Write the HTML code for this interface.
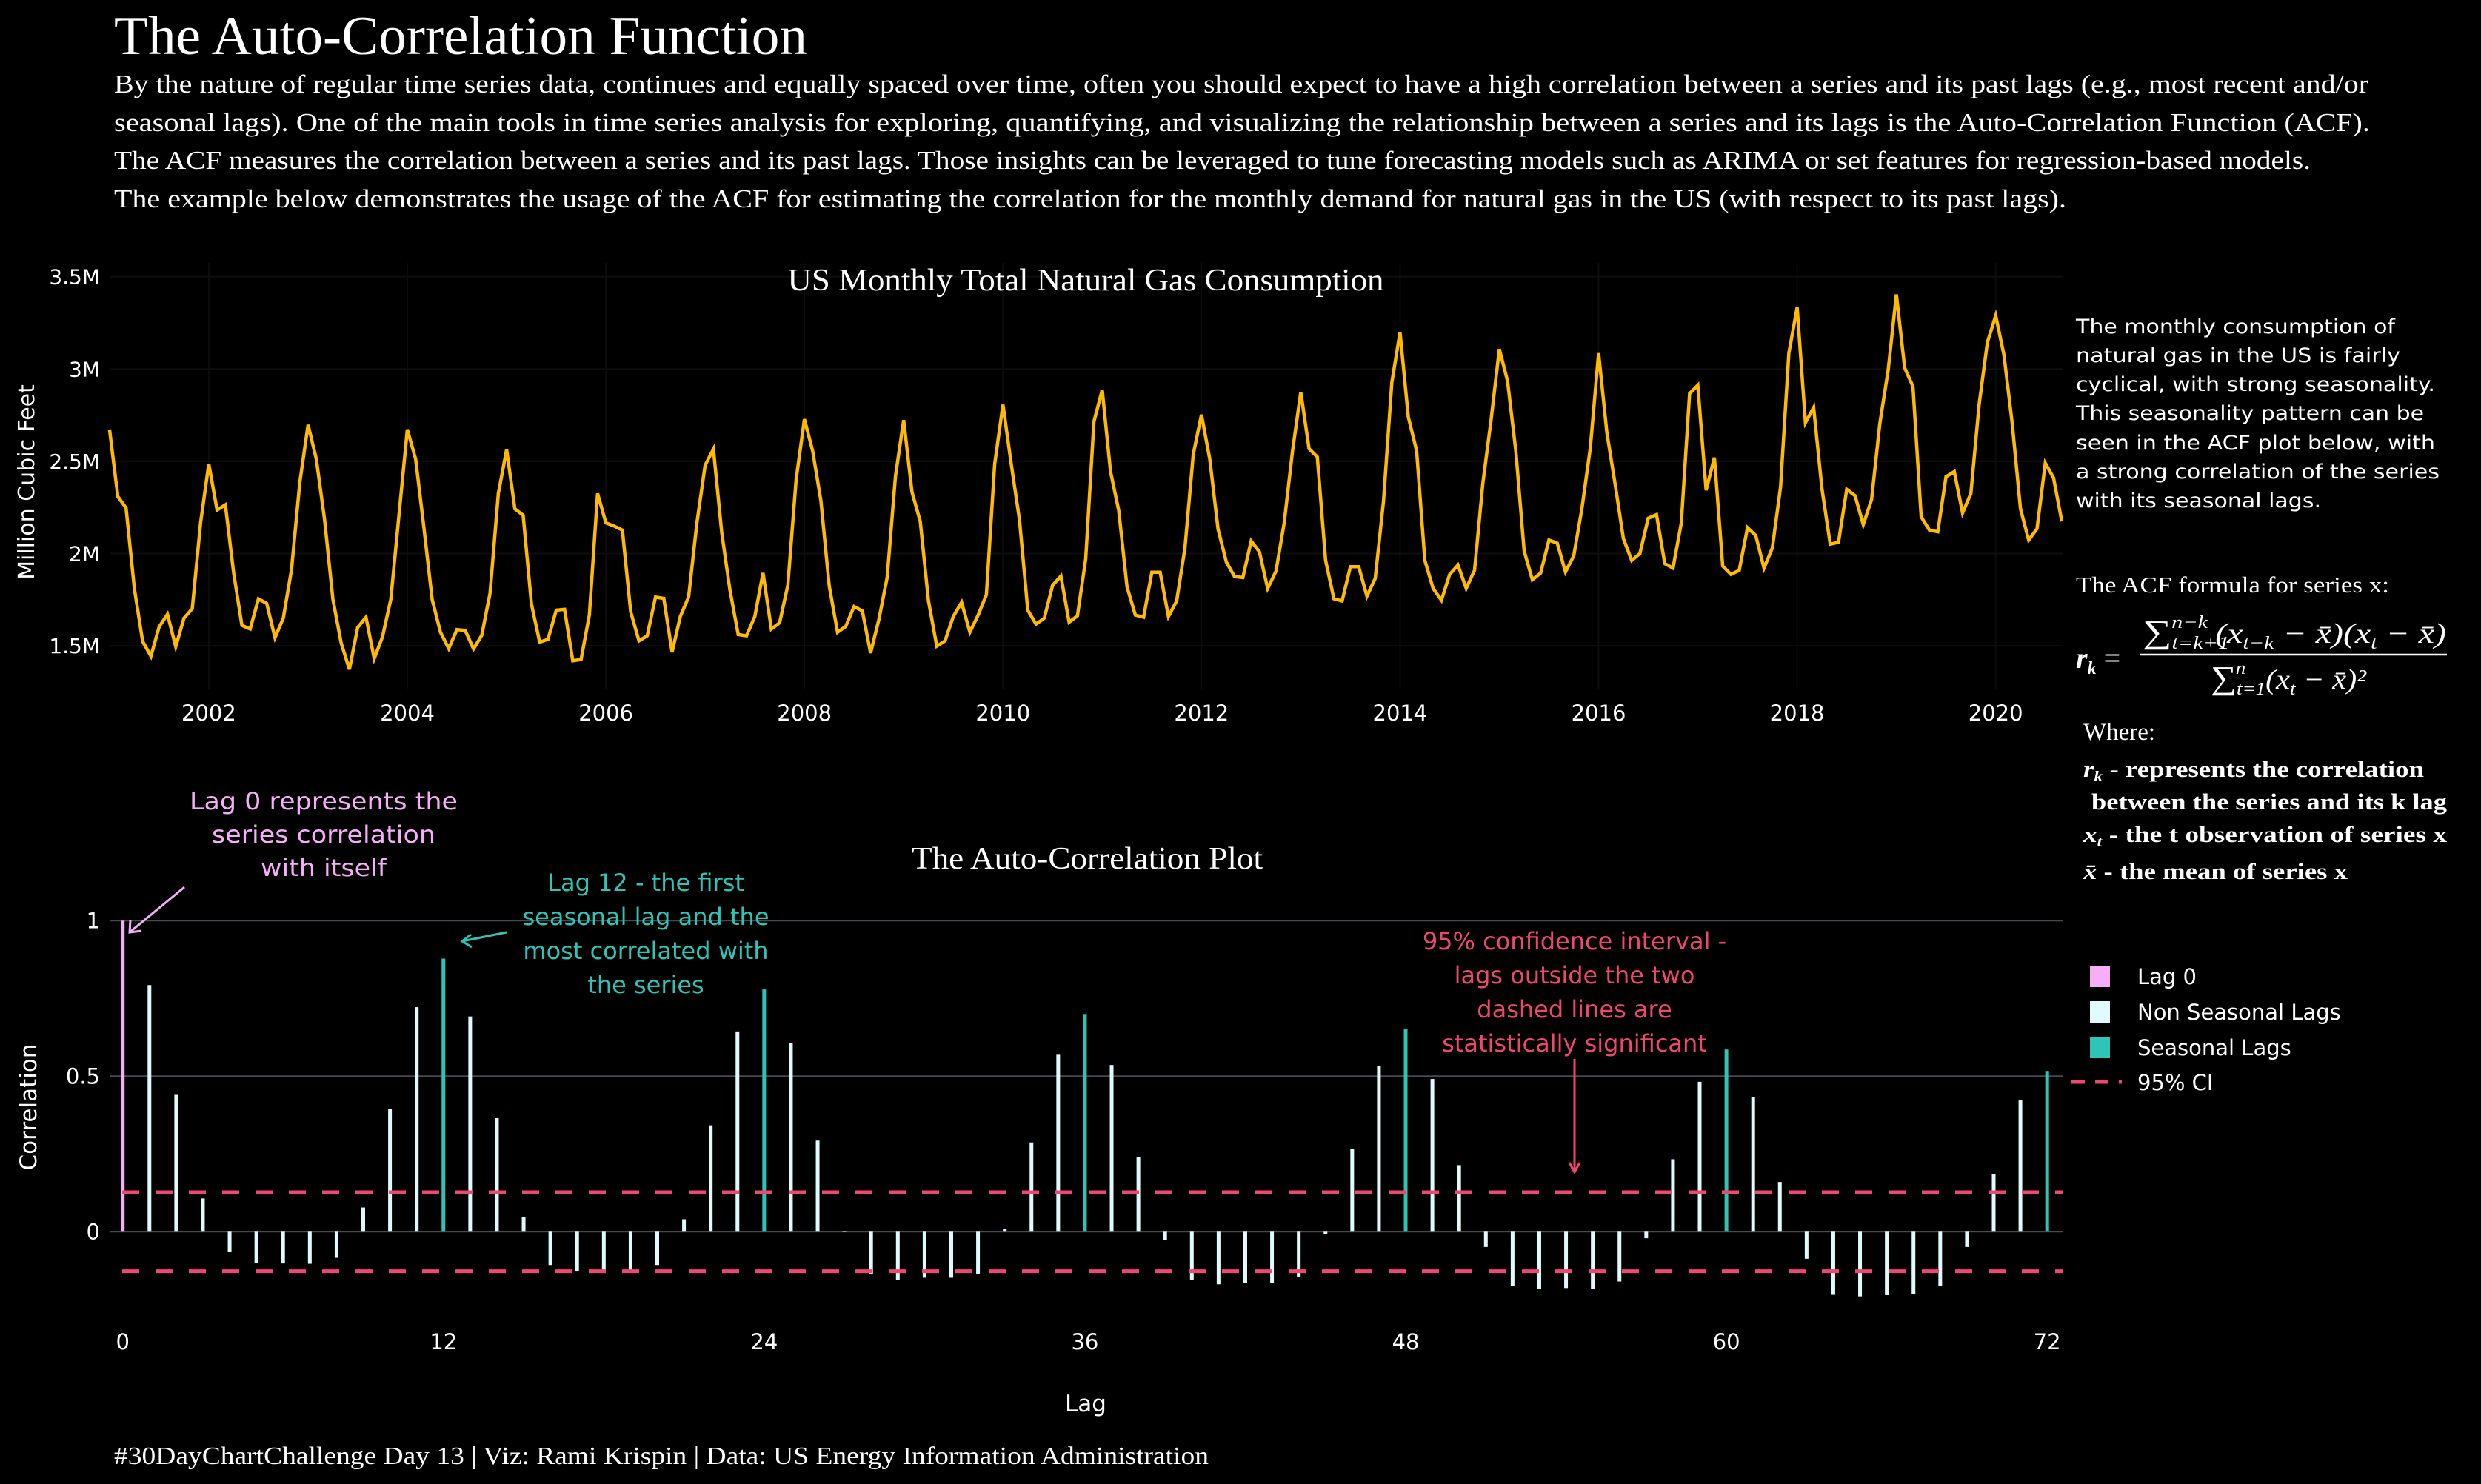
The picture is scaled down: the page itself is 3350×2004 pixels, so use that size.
<!DOCTYPE html>
<html><head><meta charset="utf-8"><style>
html,body{margin:0;padding:0;background:#000;}
svg{display:block;}
.serif{font-family:"Liberation Serif",serif;fill:#fff;}
.sans{font-family:"DejaVu Sans","Liberation Sans",sans-serif;fill:#fff;}
</style></head><body>
<svg id="root" width="3350" height="2004" viewBox="0 0 3350 2004" xmlns="http://www.w3.org/2000/svg">
<rect x="0" y="0" width="3350" height="2004" fill="#000"/>
<text class="serif" x="154" y="73" font-size="74" textLength="936" lengthAdjust="spacingAndGlyphs">The Auto-Correlation Function</text>
<g class="serif" font-size="35">
<text x="154" y="125" textLength="3044" lengthAdjust="spacingAndGlyphs">By the nature of regular time series data, continues and equally spaced over time, often you should expect to have a high correlation between a series and its past lags (e.g., most recent and/or</text>
<text x="154" y="177" textLength="3046" lengthAdjust="spacingAndGlyphs">seasonal lags). One of the main tools in time series analysis for exploring, quantifying, and visualizing the relationship between a series and its lags is the Auto-Correlation Function (ACF).</text>
<text x="154" y="228" textLength="2966" lengthAdjust="spacingAndGlyphs">The ACF measures the correlation between a series and its past lags. Those insights can be leveraged to tune forecasting models such as ARIMA or set features for regression-based models.</text>
<text x="154" y="280" textLength="2636" lengthAdjust="spacingAndGlyphs">The example below demonstrates the usage of the ACF for estimating the correlation for the monthly demand for natural gas in the US (with respect to its past lags).</text>
</g>
<g id="ts"></g>
<g id="acf"></g>
<g class="sans" font-size="27">
<text x="2803" y="450" textLength="431" lengthAdjust="spacingAndGlyphs">The monthly consumption of</text>
<text x="2803" y="489" textLength="438" lengthAdjust="spacingAndGlyphs">natural gas in the US is fairly</text>
<text x="2803" y="528" textLength="485" lengthAdjust="spacingAndGlyphs">cyclical, with strong seasonality.</text>
<text x="2803" y="567" textLength="470" lengthAdjust="spacingAndGlyphs">This seasonality pattern can be</text>
<text x="2803" y="607" textLength="485" lengthAdjust="spacingAndGlyphs">seen in the ACF plot below, with</text>
<text x="2803" y="646" textLength="491" lengthAdjust="spacingAndGlyphs">a strong correlation of the series</text>
<text x="2803" y="685" textLength="331" lengthAdjust="spacingAndGlyphs">with its seasonal lags.</text>
</g>
<g class="serif">
<text x="2803" y="800" font-size="31" textLength="423" lengthAdjust="spacingAndGlyphs">The ACF formula for series x:</text>
<text x="2803" y="902" font-size="40" font-style="italic" font-weight="bold">r<tspan font-size="24" dy="8">k</tspan><tspan dy="-8" font-style="normal" font-weight="normal"> =</tspan></text>
<text x="2893" y="868" font-size="38" font-style="italic" textLength="410" lengthAdjust="spacingAndGlyphs"><tspan font-style="normal" font-size="44">∑</tspan><tspan font-size="24" dy="8">t=k+1</tspan><tspan font-size="24" dx="-62" dy="-28">n−k</tspan><tspan dy="20" dx="8">(x</tspan><tspan font-size="24" dy="8">t−k</tspan><tspan dy="-8"> − x̄)(x</tspan><tspan font-size="24" dy="8">t</tspan><tspan dy="-8"> − x̄)</tspan></text>
<line x1="2890" y1="884" x2="3304" y2="884" stroke="#fff" stroke-width="2.5"/>
<text x="2985" y="930" font-size="38" font-style="italic" textLength="210" lengthAdjust="spacingAndGlyphs"><tspan font-style="normal" font-size="44">∑</tspan><tspan font-size="24" dy="8">t=1</tspan><tspan font-size="24" dx="-36" dy="-28">n</tspan><tspan dy="20" dx="24">(x</tspan><tspan font-size="24" dy="8">t</tspan><tspan dy="-8"> − x̄)²</tspan></text>
<text x="2813" y="999" font-size="33">Where:</text>
<g font-size="31" font-weight="bold">
<text x="2813" y="1049" textLength="460" lengthAdjust="spacingAndGlyphs"><tspan font-style="italic">r<tspan font-size="20" dy="6">k</tspan></tspan><tspan dy="-6"> - represents the correlation</tspan></text>
<text x="2824" y="1093" textLength="480" lengthAdjust="spacingAndGlyphs">between the series and its k lag</text>
<text x="2813" y="1137" textLength="491" lengthAdjust="spacingAndGlyphs"><tspan font-style="italic">x<tspan font-size="20" dy="6">t</tspan></tspan><tspan dy="-6"> - the t observation of series x</tspan></text>
<text x="2813" y="1187" textLength="357" lengthAdjust="spacingAndGlyphs"><tspan font-style="italic">x̄</tspan> - the mean of series x</text>
</g>
</g>
<text class="serif" x="154" y="1977" font-size="34" textLength="1478" lengthAdjust="spacingAndGlyphs">#30DayChartChallenge Day 13 | Viz: Rami Krispin | Data: US Energy Information Administration</text>
</svg>
<script>
// ---------- Time series data (million cubic feet, monthly from Jan 2001) ----------
var startYear = 2001;
var gasValues = [
2.672,2.309,2.247,1.811,1.524,1.444,1.603,1.671,1.495,1.650,1.701,2.166,
2.486,2.236,2.264,1.895,1.611,1.591,1.755,1.730,1.544,1.650,1.912,2.385,
2.698,2.512,2.182,1.752,1.515,1.372,1.600,1.655,1.431,1.549,1.752,2.216,
2.672,2.512,2.140,1.752,1.574,1.485,1.588,1.583,1.483,1.557,1.785,2.326,
2.563,2.242,2.208,1.726,1.520,1.535,1.693,1.698,1.419,1.426,1.667,2.326,
2.166,2.149,2.127,1.684,1.527,1.554,1.764,1.757,1.465,1.659,1.764,2.166,
2.478,2.566,2.115,1.802,1.561,1.554,1.659,1.895,1.591,1.625,1.828,2.402,
2.728,2.554,2.284,1.824,1.574,1.605,1.713,1.689,1.461,1.642,1.870,2.419,
2.723,2.334,2.174,1.743,1.498,1.527,1.659,1.735,1.574,1.667,1.777,2.486,
2.807,2.486,2.182,1.693,1.617,1.650,1.828,1.878,1.628,1.662,1.971,2.715,
2.887,2.444,2.233,1.819,1.667,1.655,1.899,1.899,1.659,1.743,2.030,2.537,
2.753,2.512,2.132,1.954,1.875,1.870,2.068,2.010,1.811,1.904,2.166,2.554,
2.875,2.568,2.524,1.963,1.755,1.743,1.929,1.929,1.769,1.865,2.284,2.926,
3.199,2.740,2.557,1.963,1.811,1.747,1.887,1.938,1.811,1.909,2.377,2.723,
3.108,2.934,2.554,2.014,1.858,1.895,2.073,2.056,1.900,1.988,2.250,2.571,
3.086,2.655,2.377,2.081,1.963,2.000,2.191,2.211,1.946,1.921,2.166,2.867,
2.912,2.343,2.520,1.932,1.887,1.909,2.140,2.098,1.921,2.030,2.360,3.086,
3.334,2.709,2.791,2.351,2.051,2.061,2.348,2.314,2.157,2.292,2.706,2.993,
3.404,3.007,2.905,2.199,2.127,2.118,2.416,2.444,2.220,2.326,2.807,3.145,
3.289,3.078,2.706,2.242,2.073,2.135,2.490,2.410,2.174];
var tsYTicks = [1.5,2,2.5,3,3.5];
var tsYTickLabels = ["1.5M","2M","2.5M","3M","3.5M"];
var tsXTickYears = [2002,2004,2006,2008,2010,2012,2014,2016,2018,2020];

// ---------- ACF data ----------
var acfLags = [];
for (var k=0;k<=72;k++) acfLags.push(k);
var acfValues = [1,0.793,0.44,0.107,-0.066,-0.10,-0.102,-0.103,-0.084,0.078,0.395,0.722,
0.878,0.692,0.365,0.048,-0.107,-0.128,-0.122,-0.122,-0.107,0.04,0.342,0.644,
0.779,0.606,0.293,0.002,-0.136,-0.154,-0.148,-0.148,-0.136,0.008,0.287,0.569,
0.70,0.536,0.24,-0.027,-0.154,-0.169,-0.164,-0.165,-0.146,-0.008,0.265,0.534,
0.653,0.491,0.214,-0.049,-0.175,-0.183,-0.181,-0.183,-0.16,-0.021,0.233,0.482,
0.586,0.434,0.16,-0.087,-0.203,-0.208,-0.204,-0.2,-0.175,-0.049,0.186,0.422,0.517];
var ciBound = [0.127];
var acfXTicks = [0,12,24,36,48,60,72];
var acfYTicks = [0,0.5,1];
var acfYTickLabels = ["0","0.5","1"];

var NS = "http://www.w3.org/2000/svg";
function mk(tag, attrs, parent){var e=document.createElementNS(NS,tag);for(var a in attrs)e.setAttribute(a,attrs[a]);parent.appendChild(e);return e;}

// ---------- Time series chart ----------
var ts = document.getElementById('ts');
function tsX(i){return 147.9 + i*11.17;}
function tsY(v){return 373.7 + (3.5 - v)*249.2;}
tsXTickYears.forEach(function(yr){
  var x = tsX((yr-startYear)*12);
  var g = mk('line',{x1:x,y1:355,x2:x,y2:930,stroke:'#0c0c0c','stroke-width':2},ts);
  
  
  var t = mk('text',{x:x,y:973,'text-anchor':'middle','font-size':29,fill:'#fff','font-family':'DejaVu Sans, sans-serif'},ts);
  t.textContent = yr;
  
  
});
tsYTicks.forEach(function(v,j){
  var y = tsY(v);
  var g = mk('line',{x1:148,y1:y,x2:2785,y2:y,stroke:'#0e0e0e','stroke-width':2},ts);
  
  
  var t = mk('text',{x:135,y:y+10,'text-anchor':'end','font-size':28,fill:'#fff','font-family':'DejaVu Sans, sans-serif'},ts);
  t.textContent = tsYTickLabels[j];
  
  
});
var pts = gasValues.map(function(v,i){return tsX(i).toFixed(1)+','+tsY(v).toFixed(1);}).join(' ');
var pl = mk('polyline',{points:pts,fill:'none',stroke:'#ffbb00','stroke-width':4.5,'stroke-linejoin':'miter'},ts);


var tt = mk('text',{x:1466,y:392,'text-anchor':'middle','font-size':42,fill:'#fff','font-family':'Liberation Serif, serif',textLength:805,lengthAdjust:'spacingAndGlyphs'},ts);
tt.textContent = 'US Monthly Total Natural Gas Consumption';


var yt = mk('text',{x:0,y:0,'text-anchor':'middle','font-size':30,fill:'#fff','font-family':'DejaVu Sans, sans-serif',transform:'translate(46,651) rotate(-90)'},ts);
yt.textContent = 'Million Cubic Feet';



// ---------- ACF chart ----------
var acf = document.getElementById('acf');
function aX(l){return 165.7 + l*36.09;}
function aY(v){return 1663.3 - v*420;}
acfYTicks.forEach(function(v,j){
  var y = aY(v);
  var g = mk('line',{x1:148,y1:y,x2:2785,y2:y,stroke:'#444a52','stroke-width':2},acf);
  
  
  var t = mk('text',{x:135,y:y+10,'text-anchor':'end','font-size':29,fill:'#fff','font-family':'DejaVu Sans, sans-serif'},acf);
  t.textContent = acfYTickLabels[j];
  
  
});
acfXTicks.forEach(function(l){
  var t = mk('text',{x:aX(l),y:1822,'text-anchor':'middle','font-size':29,fill:'#fff','font-family':'DejaVu Sans, sans-serif'},acf);
  t.textContent = l;
  
  
});
acfLags.forEach(function(l,i){
  var v = acfValues[i];
  var col = l===0 ? '#f7aef8' : (l%12===0 ? '#2ec4b6' : '#e0fbfc');
  var y0 = aY(0), y1 = aY(v);
  var b = mk('rect',{x:aX(l)-2.5,y:Math.min(y0,y1),width:5,height:Math.max(1,Math.abs(y1-y0)),fill:col},acf);
  
  
});
[ciBound[0], -ciBound[0]].forEach(function(v){
  var y = aY(v);
  var d = mk('line',{x1:165,y1:y,x2:2785,y2:y,stroke:'#ef476f','stroke-width':5,'stroke-dasharray':'23,22'},acf);
  
  
});
var at = mk('text',{x:1468,y:1173,'text-anchor':'middle','font-size':42,fill:'#fff','font-family':'Liberation Serif, serif',textLength:474,lengthAdjust:'spacingAndGlyphs'},acf);
at.textContent = 'The Auto-Correlation Plot';


var xl = mk('text',{x:1466,y:1906,'text-anchor':'middle','font-size':31,fill:'#fff','font-family':'DejaVu Sans, sans-serif'},acf);
xl.textContent = 'Lag';


var yl = mk('text',{x:0,y:0,'text-anchor':'middle','font-size':31,fill:'#fff','font-family':'DejaVu Sans, sans-serif',transform:'translate(49,1495) rotate(-90)'},acf);
yl.textContent = 'Correlation';


</script>
<script>
(function(){
var root=document.getElementById('root');
var s='';
s+='<g font-family="DejaVu Sans, sans-serif" font-size="32" text-anchor="middle" fill="#f7aef8">'+
'<text x="437" y="1093" textLength="362" lengthAdjust="spacingAndGlyphs">Lag 0 represents the</text>'+
'<text x="437" y="1138" textLength="302" lengthAdjust="spacingAndGlyphs">series correlation</text>'+
'<text x="437" y="1183" textLength="170" lengthAdjust="spacingAndGlyphs">with itself</text>'+
'<line x1="249" y1="1198" x2="175" y2="1259" stroke="#f7aef8" stroke-width="3"/>'+
'<polyline points="176,1243 175,1259 191,1257" fill="none" stroke="#f7aef8" stroke-width="3"/></g>';
s+='<g font-family="DejaVu Sans, sans-serif" font-size="32" text-anchor="middle" fill="#2ec4b6">'+
'<text x="872" y="1203">Lag 12 - the first</text>'+
'<text x="872" y="1249">seasonal lag and the</text>'+
'<text x="872" y="1295">most correlated with</text>'+
'<text x="872" y="1341">the series</text>'+
'<line x1="684" y1="1259" x2="624" y2="1271" stroke="#2ec4b6" stroke-width="3"/>'+
'<polyline points="636,1262 624,1271 637,1279" fill="none" stroke="#2ec4b6" stroke-width="3"/></g>';
s+='<g font-family="DejaVu Sans, sans-serif" font-size="32" text-anchor="middle" fill="#ef476f">'+
'<text x="2126" y="1282">95% confidence interval -</text>'+
'<text x="2126" y="1328">lags outside the two</text>'+
'<text x="2126" y="1374">dashed lines are</text>'+
'<text x="2126" y="1420">statistically significant</text>'+
'<line x1="2126" y1="1430" x2="2126" y2="1582" stroke="#ef476f" stroke-width="3"/>'+
'<polyline points="2119,1570 2126,1583 2133,1570" fill="none" stroke="#ef476f" stroke-width="3"/></g>';
s+='<g font-family="DejaVu Sans, sans-serif" font-size="29" fill="#fff">'+
'<rect x="2822" y="1304" width="27" height="29" fill="#f7aef8"/><text x="2886" y="1329">Lag 0</text>'+
'<rect x="2822" y="1352" width="27" height="29" fill="#e0fbfc"/><text x="2886" y="1377">Non Seasonal Lags</text>'+
'<rect x="2822" y="1400" width="27" height="29" fill="#2ec4b6"/><text x="2886" y="1425">Seasonal Lags</text>'+
'<line x1="2797" y1="1461" x2="2865" y2="1461" stroke="#ef476f" stroke-width="5" stroke-dasharray="18,14"/><text x="2886" y="1472">95% CI</text></g>';
root.insertAdjacentHTML('beforeend', s);
})();
</script>
</body></html>
